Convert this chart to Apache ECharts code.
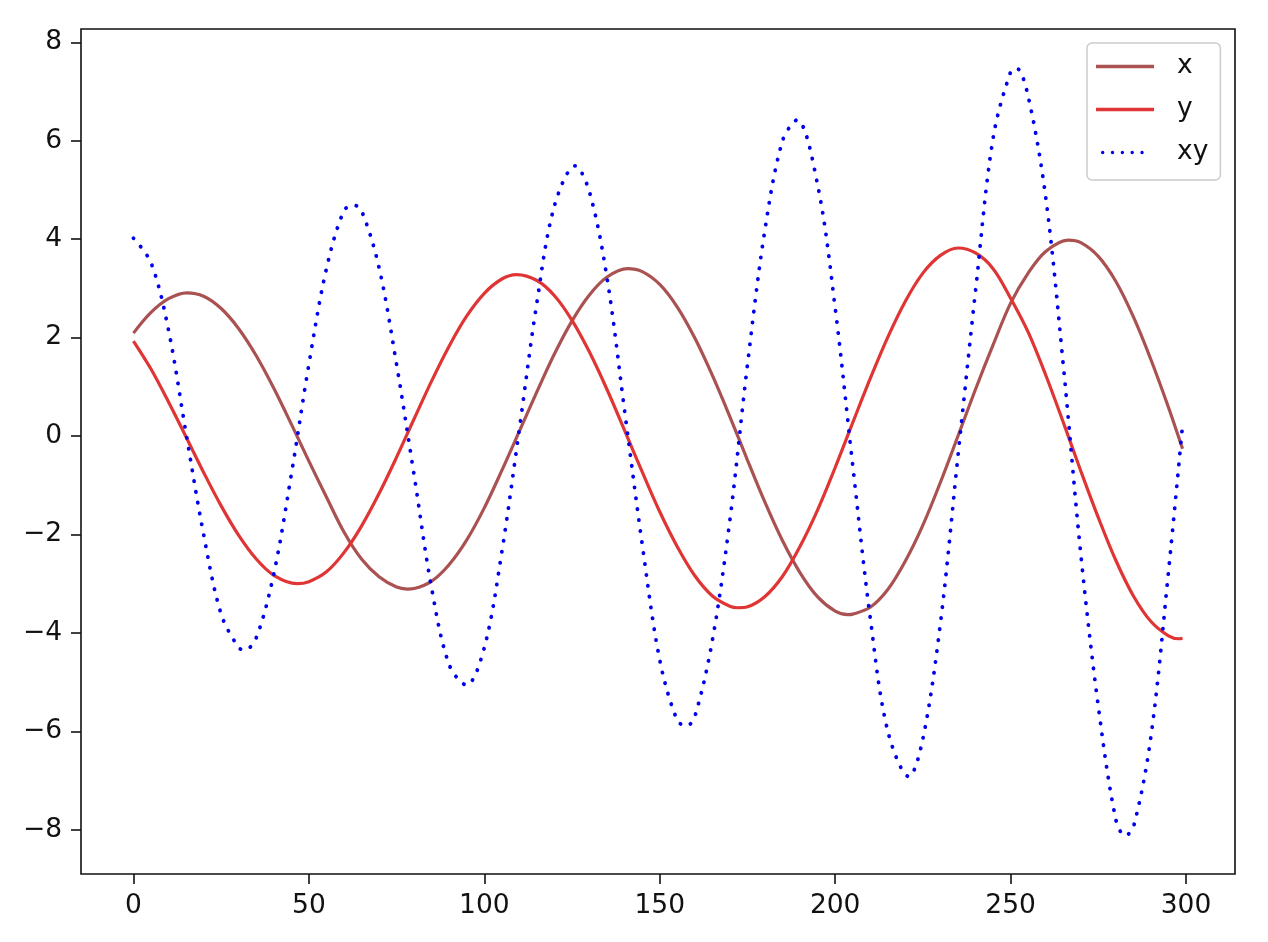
<!DOCTYPE html>
<html>
<head>
<meta charset="utf-8">
<script src="https://cdn.jsdelivr.net/npm/echarts@6/dist/echarts.min.js"></script>
<style>
html,body{margin:0;padding:0;background:#fff;}
#chart{width:1268px;height:942px;}
</style>
</head>
<body>
<div id="chart"></div>
<script>
// ---- data ----
const seriesNames = ['x', 'y', 'xy'];

const xT = [0,5,10,15.2,20,25,30,35,40,45,50,55,60,65,70,75,78,80,85,90,95,
  100,105,110,115,120,125,130,135,140.8,145,150,155,160,165,170,175,180,185,190,195,
  200,203.6,205,210,215,220,225,230,235,240,245,250,255,260,266.4,270,275,280,285,290,295,299];
const xVals = [2.09,2.51,2.79,2.91,2.84,2.59,2.18,1.63,0.97,0.24,-0.51,-1.24,-1.95,-2.50,-2.86,-3.07,-3.11,-3.10,-2.95,-2.61,-2.11,
  -1.46,-0.70,0.10,0.90,1.67,2.34,2.87,3.23,3.40,3.34,3.08,2.62,1.99,1.23,0.39,-0.49,-1.35,-2.13,-2.78,-3.27,
  -3.56,-3.63,-3.62,-3.48,-3.12,-2.54,-1.81,-0.94,0.00,0.95,1.85,2.70,3.31,3.75,3.98,3.93,3.65,3.14,2.42,1.55,0.58,-0.26];

const yT = [0,5,10,15,20,25,30,35,40,46.6,50,55,60,65,70,75,80,85,90,95,
  100,105,109.2,115,120,125,130,135,140,145,150,155,160,165,170,172.2,175,180,185,190,195,
  200,205,210,215,220,225,230,235,240,245,250,255,260,265,270,275,280,285,290,295,298,299];
const yVals = [1.93,1.36,0.69,-0.02,-0.74,-1.42,-2.02,-2.50,-2.83,-3.00,-2.96,-2.76,-2.37,-1.83,-1.17,-0.43,0.35,1.12,1.83,2.44,
  2.90,3.19,3.28,3.16,2.85,2.35,1.70,0.94,0.11,-0.73,-1.54,-2.25,-2.84,-3.25,-3.46,-3.49,-3.47,-3.26,-2.85,-2.24,-1.50,
  -0.64,0.27,1.17,2.01,2.74,3.31,3.67,3.82,3.72,3.40,2.80,2.11,1.24,0.28,-0.71,-1.66,-2.53,-3.25,-3.77,-4.06,-4.12,-4.11];

const xyT = [0,5,10,15,20,25,30,31.7,35,40,45,50,55,60,62.8,65,70,75,80,85,90,94.9,
  100,105,110,115,120,125.9,130,135,140,145,150,155,157.7,160,165,170,175,180,185,189.1,195,
  200,205,210,215,221,225,230,235,240,245,250,251.7,255,260,265,270,275,280,282.6,285,290,295,299];
const xyVals = [4.02,3.52,2.15,0.05,-2.0,-3.62,-4.30,-4.35,-4.10,-2.8,-0.78,1.46,3.4,4.58,4.69,4.58,3.42,1.45,-0.8,-3.1,-4.65,-5.06,
  -4.3,-2.35,0.15,2.72,4.68,5.49,4.95,3.2,0.5,-2.2,-4.55,-5.78,-5.89,-5.7,-4.15,-1.7,1.45,4.2,6.0,6.42,5.1,
  2.6,-0.6,-3.7,-6.0,-6.92,-6.15,-3.8,-0.4,2.95,6.05,7.4,7.47,6.9,4.85,1.45,-2.4,-5.5,-7.8,-8.12,-7.95,-6.1,-2.75,0.22];

const xTickVals = [0,50,100,150,200,250,300];
const yTickVals = [-8,-6,-4,-2,0,2,4,6,8];

// ---- styling ----
const FONT = 'DejaVu Sans';
const INK = '#111';
const colX = '#aa5252';
const colY = '#e03535';
const colXY = '#0000ee';
const SMOOTH = 0.34;

const chart = echarts.init(document.getElementById('chart'), null, {renderer: 'canvas'});

const solidIcon = 'path://M0,0 L58,0 L58,3.4 L0,3.4 Z M76,0 L76,0';
const dotsIcon = 'path://' + [3,14,25,36,47].map(c =>
  `M${c-1.9},1.7 A1.9,1.9 0 1,0 ${c+1.9},1.7 A1.9,1.9 0 1,0 ${c-1.9},1.7 Z`).join(' ') +
  ' M0,0 L0,0 M76,3.4 L76,3.4';

const option = {
  animation: false,
  backgroundColor: '#fff',
  grid: {
    left: 81, right: 33, top: 29, bottom: 68,
    show: true, borderColor: INK, borderWidth: 1.6, backgroundColor: 'transparent'
  },
  xAxis: {
    type: 'value', min: -14.95, max: 313.95,
    splitLine: {show: false},
    axisLine: {show: false, onZero: false},
    axisTick: {show: true, length: 10, lineStyle: {color: INK, width: 1.6}, customValues: xTickVals},
    axisLabel: {customValues: xTickVals, margin: 19, fontSize: 26.5, fontFamily: FONT, color: INK}
  },
  yAxis: {
    type: 'value', min: -8.9, max: 8.27,
    splitLine: {show: false},
    axisLine: {show: false, onZero: false},
    axisTick: {show: true, length: 10, lineStyle: {color: INK, width: 1.6}, customValues: yTickVals},
    axisLabel: {customValues: yTickVals, margin: 19, fontSize: 26.5, fontFamily: FONT, color: INK,
      formatter: v => String(v).replace('-', '\u2212')}
  },
  legend: {
    orient: 'vertical', left: 1087, top: 43,
    itemWidth: 76, itemHeight: 3.4, itemGap: 16,
    padding: [10, 12, 14, 9],
    backgroundColor: 'rgba(255,255,255,0.85)',
    borderColor: '#cccccc', borderWidth: 1.5, borderRadius: 5,
    textStyle: {fontSize: 26.5, lineHeight: 26, fontFamily: FONT, color: INK},
    data: [
      {name: seriesNames[0], icon: solidIcon},
      {name: seriesNames[1], icon: solidIcon},
      {name: seriesNames[2], icon: dotsIcon}
    ]
  },
  series: [
    {
      name: seriesNames[0], type: 'line', symbol: 'none', smooth: SMOOTH,
      color: colX,
      lineStyle: {color: colX, width: 3.2},
      data: xT.map((t, i) => [t, xVals[i]])
    },
    {
      name: seriesNames[1], type: 'line', symbol: 'none', smooth: SMOOTH,
      color: colY,
      lineStyle: {color: colY, width: 3.2},
      data: yT.map((t, i) => [t, yVals[i]])
    },
    {
      name: seriesNames[2], type: 'line', symbol: 'none', smooth: SMOOTH,
      color: colXY,
      lineStyle: {color: colXY, width: 3.8, type: [0.3, 10.7], cap: 'round'},
      data: xyT.map((t, i) => [t, xyVals[i]])
    }
  ]
};

chart.setOption(option);
</script>
</body>
</html>
